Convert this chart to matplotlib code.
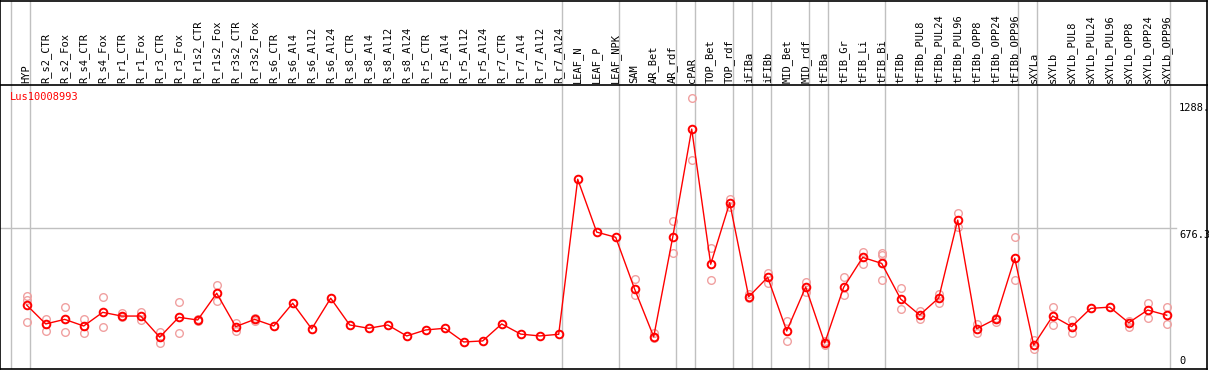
import matplotlib
matplotlib.use("Agg")
import matplotlib.pyplot as plt
import numpy as np

# column labels (header)
labels = [
    "HYP",
    "R_s2_CTR", "R_s2_Fox", "R_s4_CTR", "R_s4_Fox", "R_r1_CTR", "R_r1_Fox",
    "R_r3_CTR", "R_r3_Fox", "R_r1s2_CTR", "R_r1s2_Fox", "R_r3s2_CTR", "R_r3s2_Fox",
    "R_s6_CTR", "R_s6_Al4", "R_s6_Al12", "R_s6_Al24",
    "R_s8_CTR", "R_s8_Al4", "R_s8_Al12", "R_s8_Al24",
    "R_r5_CTR", "R_r5_Al4", "R_r5_Al12", "R_r5_Al24",
    "R_r7_CTR", "R_r7_Al4", "R_r7_Al12", "R_r7_Al24",
    "LEAF_N", "LEAF_P", "LEAF_NPK",
    "SAM", "AR_Bet", "AR_rdf", "cPAR", "TOP_Bet", "TOP_rdf",
    "iFIBa", "iFIBb", "MID_Bet", "MID_rdf",
    "tFIBa", "tFIB_Gr", "tFIB_Li", "tFIB_Bi",
    "tFIBb", "tFIBb_PUL8", "tFIBb_PUL24", "tFIBb_PUL96",
    "tFIBb_OPP8", "tFIBb_OPP24", "tFIBb_OPP96",
    "sXYLa",
    "sXYLb", "sXYLb_PUL8", "sXYLb_PUL24", "sXYLb_PUL96",
    "sXYLb_OPP8", "sXYLb_OPP24", "sXYLb_OPP96",
]

# mean expression per column
means = [
    306, 215, 237, 205, 271, 253, 253, 151, 247, 234, 363, 202, 237,
    205, 315, 191, 339, 210, 194, 210, 157, 186, 194, 128, 133, 215, 166, 157, 165,
    913, 658, 633,
    382, 153, 633, 1155, 503, 800,
    346, 440, 181, 393,
    123, 392, 536, 507,
    335, 258, 340, 716, 192, 239, 532,
    113,
    253, 202, 290, 296, 221, 282, 257,
]

# replicate values per column (empty where none visible)
reps = [
    [350, 330, 224], [239, 182], [298, 175], [239, 170], [345, 199], [266, 250],
    [271, 234], [175, 124], [319, 170], [237, 229], [403, 327], [221, 182], [242, 231],
    [], [], [], [], [], [], [], [], [], [], [], [], [], [], [], [],
    [], [], [],
    [432, 355], [170, 146], [712, 556], [1303, 1004], [581, 425], [816, 781],
    [357, 338], [462, 414], [228, 131], [419, 368],
    [133, 113], [440, 353], [562, 503], [559, 548, 427],
    [387, 286], [277, 239], [359, 317], [750, 684], [215, 173], [245, 226], [633, 427],
    [137, 93],
    [295, 208], [234, 170], [], [], [231, 202], [317, 242], [295, 216],
]

# last column index of each group (separator lines)
group_ends = [-1, 0, 28, 31, 34, 35, 37, 38, 39, 41, 42, 45, 52, 53, 60]

gene = "Lus10008993"
y_ticks = [1288, 676.3, 0]
y_tick_labels = ["1288.", "676.3", "0"]

W, H = 1209, 370
fig = plt.figure(figsize=(W / 100, H / 100), dpi=100)

x_lo = -26.7 / 19
x_hi = (1207 - 26.7) / 19
y_hi = (368.5 - 85) / 0.2073

ax = fig.add_axes([0, 1.5 / H, 1207 / W, 283.5 / H])
hdr = fig.add_axes([0, 285 / H, 1207 / W, 84.5 / H], sharex=ax)

mono = "DejaVu Sans Mono"
grey = "#c0c0c0"
sep = [e + 3.5 / 19 for e in group_ends]

for a in (ax, hdr):
    for s in a.spines.values():
        s.set_linewidth(1.2)
        s.set_color("black")
    a.set_xticks([])
    a.set_yticks([])
    for xv in sep:
        a.axvline(xv, color=grey, lw=1, zorder=0)

ax.set_xlim(x_lo, x_hi)
ax.set_ylim(0, y_hi)
hdr.set_ylim(0, 1)
ax.spines["top"].set_visible(False)

ax.plot([x_lo, sep[-1] + 0.3], [676.3, 676.3], color=grey, lw=1, zorder=0)

xs = np.arange(len(labels))
for i, r in enumerate(reps):
    if r:
        ax.plot([i] * len(r), r, ls="none", marker="o", ms=5.5, mfc="none",
                mec="#f0a0a0", mew=1.0, zorder=2)
ax.plot(xs, means, color="#ff0000", lw=1, marker="o", ms=5.5, mfc="none",
        mec="#ff0000", mew=1.4, zorder=3)

for i, lab in enumerate(labels):
    hdr.text(i, 2.5 / 85, lab, rotation=90, ha="center", va="bottom",
             family=mono, fontsize=7.5, color="black")

ax.text(-0.9, 1333, gene, color="#ff0000", family=mono, fontsize=7.5,
        ha="left", va="top")

tx = (1179 - 26.7) / 19
for v, t in zip(y_ticks, y_tick_labels):
    if v == 0:
        ax.text(tx, 12, t, family=mono, fontsize=7.5, ha="left", va="bottom")
    else:
        ax.text(tx, v - 6, t, family=mono, fontsize=7.5, ha="left", va="top")

fig.savefig("out.png", dpi=100)
